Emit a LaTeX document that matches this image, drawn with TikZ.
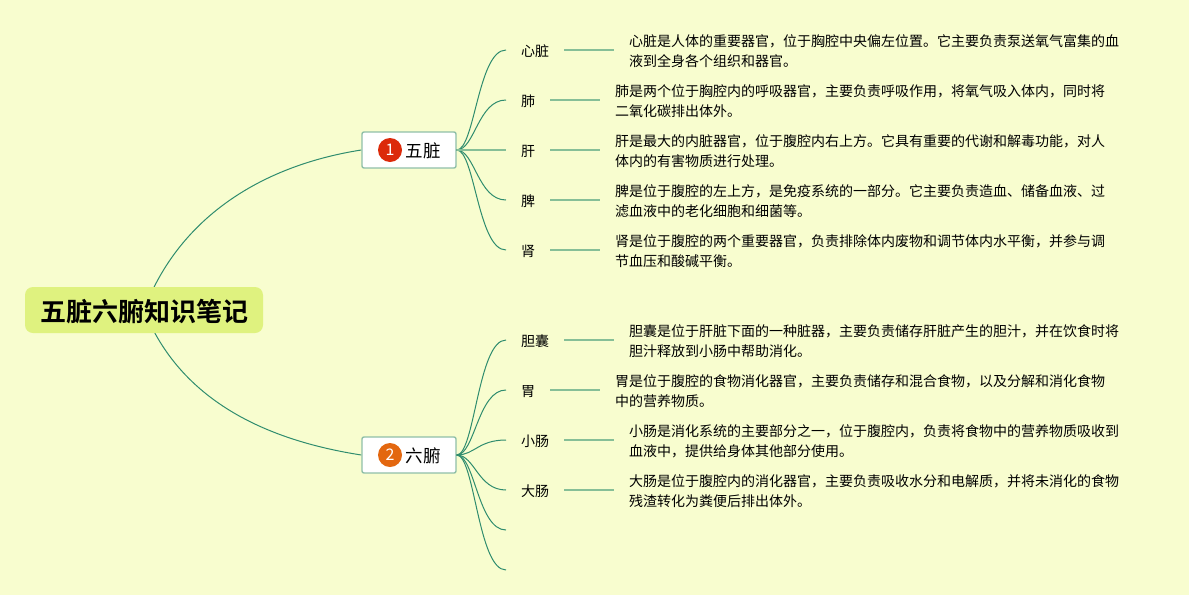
\documentclass[tikz,border=0pt]{standalone}
\usepackage{fontspec}
\setmainfont{Noto Sans CJK SC}[BoldFont=* Bold]
\usetikzlibrary{backgrounds,calc}
\definecolor{bgc}{HTML}{F8FDCF}
\definecolor{rootc}{HTML}{DFF27F}
\definecolor{linec}{HTML}{2F8C6E}
\definecolor{leafc}{HTML}{86BF97}
\definecolor{boxc}{HTML}{8FBFA8}
\definecolor{redc}{HTML}{DC2A0A}
\definecolor{orc}{HTML}{E3670F}
\newcommand{\nudge}[2]{\raisebox{-#1}[\height][\depth]{#2}}
\tikzset{
 rootbox/.style={fill=rootc,rounded corners=8pt,minimum width=238pt,minimum height=46pt,inner sep=0pt,font=\fontsize{26}{30}\selectfont\bfseries},
 branchbox/.style={fill=white,draw=boxc,line width=1.4pt,rounded corners=2pt,minimum width=94pt,minimum height=36pt,inner sep=0pt},
 branchtext/.style={inner sep=0pt,font=\fontsize{17.5}{20}\selectfont},
 badge/.style={circle,minimum size=24pt,inner sep=0pt,text=white,font=\fontsize{16}{18}\selectfont},
 leaflabel/.style={anchor=west,inner xsep=15pt,inner ysep=0pt,font=\fontsize{14}{20}\selectfont},
 desc/.style={anchor=west,inner xsep=14.5pt,inner ysep=0pt,font=\fontsize{14}{20}\selectfont},
 curve/.style={draw=linec,line width=1pt},
 leafline/.style={draw=leafc,line width=2pt},
}
\newcommand{\leafitem}[4]{% name, y, label, description
 \node[leaflabel] (#1) at (506,#2) {\nudge{1.2pt}{#3}};
 \node[desc] (#1d) at ($(#1.east)+(50,0)$) {\nudge{2.2pt}{\begin{tabular}{@{}l@{}}#4\end{tabular}}};
 \draw[leafline] (#1.east) -- (#1d.west);
}
\begin{document}
\begin{tikzpicture}[x=1pt,y=-1pt]
\begin{scope}[on background layer]
\fill[bgc] (0,0) rectangle (1189,595);
\end{scope}
\useasboundingbox (0,0) rectangle (1189,595);
\node[rootbox] (root) at (144,310) {\nudge{1.5pt}{五脏六腑知识笔记}};
\node[branchbox] (b1) at (409,150) {};
\node[badge,fill=redc] (b1n) at (390,150) {1};
\node[branchtext,anchor=west] (b1t) at (405.5,151) {五脏};
\node[branchbox] (b2) at (409,455) {};
\node[badge,fill=orc] (b2n) at (390,455) {2};
\node[branchtext,anchor=west] (b2t) at (405.5,456) {六腑};
\begin{scope}[on background layer]
\draw[curve] (root.center) .. controls (180,215) and (265,165) .. (b1.west);
\draw[curve] (root.center) .. controls (180,400) and (265,440) .. (b2.west);
\end{scope}
\leafitem{a}{50}{心脏}{心脏是人体的重要器官，位于胸腔中央偏左位置。它主要负责泵送氧气富集的血\\液到全身各个组织和器官。}
\leafitem{b}{100}{肺}{肺是两个位于胸腔内的呼吸器官，主要负责呼吸作用，将氧气吸入体内，同时将\\二氧化碳排出体外。}
\leafitem{c}{150}{肝}{肝是最大的内脏器官，位于腹腔内右上方。它具有重要的代谢和解毒功能，对人\\体内的有害物质进行处理。}
\leafitem{d}{200}{脾}{脾是位于腹腔的左上方，是免疫系统的一部分。它主要负责造血、储备血液、过\\滤血液中的老化细胞和细菌等。}
\leafitem{e}{250}{肾}{肾是位于腹腔的两个重要器官，负责排除体内废物和调节体内水平衡，并参与调\\节血压和酸碱平衡。}
\leafitem{f}{340}{胆囊}{胆囊是位于肝脏下面的一种脏器，主要负责储存肝脏产生的胆汁，并在饮食时将\\胆汁释放到小肠中帮助消化。}
\leafitem{g}{390}{胃}{胃是位于腹腔的食物消化器官，主要负责储存和混合食物，以及分解和消化食物\\中的营养物质。}
\leafitem{h}{440}{小肠}{小肠是消化系统的主要部分之一，位于腹腔内，负责将食物中的营养物质吸收到\\血液中，提供给身体其他部分使用。}
\leafitem{i}{490}{大肠}{大肠是位于腹腔内的消化器官，主要负责吸收水分和电解质，并将未消化的食物\\残渣转化为粪便后排出体外。}
\coordinate (j) at (506,530);
\coordinate (k) at (506,570);
\foreach \t in {a,b,d,e}
 \draw[curve] (b1.east) .. controls +(18,0) and ($(\t.west)+(-28,0)$) .. (\t.west);
\draw[leafline] (b1.east) -- (c.west);
\foreach \t in {f,g,h,i}
 \draw[curve] (b2.east) .. controls +(18,0) and ($(\t.west)+(-28,0)$) .. (\t.west);
\foreach \t in {j,k}
 \draw[curve] (b2.east) .. controls +(18,0) and ($(\t)+(-28,0)$) .. (\t);
\end{tikzpicture}
\end{document}
